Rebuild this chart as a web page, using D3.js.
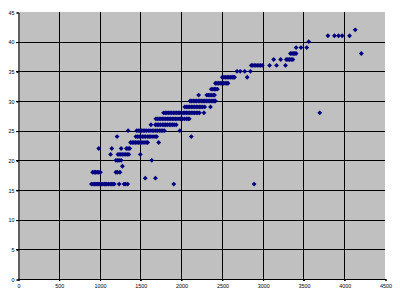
<!DOCTYPE html>
<html>
<head>
<meta charset="utf-8">
<script src="https://cdn.jsdelivr.net/npm/d3@7"></script>
<style>
  body { margin: 0; background: #fff; }
  svg { display: block; }
</style>
</head>
<body>
<svg id="chart" width="400" height="300"></svg>
<script>
const plotLeft = 18, plotRight = 385, plotTop = 12, plotBottom = 279;

const xTicks = [0, 500, 1000, 1500, 2000, 2500, 3000, 3500, 4000, 4500];
const yTicks = [0, 5, 10, 15, 20, 25, 30, 35, 40, 45];

// y level of each row of points
const yRows = [16, 17, 18, 19, 20, 21, 22, 23, 24, 25, 26, 27, 28, 29,
  30, 31, 32, 33, 34, 35, 36, 37, 38, 39, 40, 41, 42];

// x values of the points on each row (same order as yRows)
const xRows = [
  [900, 920, 940, 955, 970, 990, 1005, 1020, 1040, 1060, 1075, 1090, 1110, 1130, 1150, 1165, 1180, 1240, 1300, 1320, 1345, 1910, 2895],
  [1560, 1685],
  [915, 935, 950, 970, 990, 1010, 1200, 1220, 1250],
  [1280],
  [1200, 1220, 1240, 1265, 1640],
  [1135, 1225, 1240, 1260, 1280, 1300, 1320, 1340, 1360, 1500],
  [990, 1150, 1265, 1330, 1350, 1370],
  [1380, 1400, 1420, 1440, 1460, 1480, 1500, 1520, 1545, 1570, 1590, 1725],
  [1215, 1445, 1465, 1485, 1505, 1525, 1545, 1565, 1590, 1610, 1630, 1655, 1680, 1700, 2125],
  [1350, 1455, 1475, 1495, 1515, 1535, 1555, 1575, 1600, 1620, 1645, 1665, 1690, 1710, 1735, 1755, 1775, 1795, 1985],
  [1630, 1685, 1705, 1725, 1745, 1770, 1790, 1810, 1830, 1855, 1875, 1895, 1915, 1940],
  [1690, 1710, 1730, 1750, 1770, 1790, 1810, 1830, 1850, 1870, 1890, 1910, 1930, 1950, 1975, 1995, 2015, 2040, 2065, 2085, 2100],
  [1785, 1805, 1825, 1845, 1865, 1885, 1905, 1925, 1945, 1965, 1985, 2005, 2025, 2045, 2065, 2085, 2105, 2125, 2145, 2165, 2185, 2205, 2225, 2280, 3700],
  [2045, 2065, 2085, 2105, 2125, 2145, 2165, 2185, 2205, 2225, 2245, 2265, 2290, 2360],
  [2110, 2130, 2150, 2170, 2190, 2210, 2230, 2250, 2270, 2290, 2310, 2330, 2350, 2370, 2390, 2405, 2420],
  [2215, 2315, 2335, 2355, 2375, 2395, 2410],
  [2370, 2390, 2410, 2425, 2445],
  [2420, 2440, 2460, 2480, 2500, 2520, 2540, 2560, 2575],
  [2505, 2525, 2545, 2565, 2585, 2605, 2625, 2640, 2655, 2810],
  [2685, 2725, 2780, 2850],
  [2860, 2875, 2895, 2915, 2935, 2955, 2975, 2995, 3085, 3170, 3280],
  [3135, 3220, 3290, 3310, 3330, 3350, 3370],
  [3340, 3360, 3380, 3395, 3410, 4210],
  [3410, 3470, 3540],
  [3565],
  [3800, 3880, 3930, 3975, 4065],
  [4135]
];

function createScatter(targetSVG) {
  const svg = d3.select(targetSVG)
    .style("font", "5.4px 'Liberation Sans', Arial, sans-serif");

  const x = d3.scaleLinear().domain([0, 4500]).range([plotLeft, plotRight]);
  const y = d3.scaleLinear().domain([0, 45]).range([plotBottom, plotTop]);
  const crisp = v => Math.round(v) + 0.5;

  // plot area
  svg.append("rect")
    .attr("x", plotLeft)
    .attr("y", plotTop)
    .attr("width", plotRight - plotLeft)
    .attr("height", plotBottom - plotTop)
    .attr("fill", "#c0c0c0");

  // grid lines
  const grid = svg.append("g")
    .attr("stroke", "#000")
    .attr("stroke-width", 1);

  grid.selectAll(".hgrid").data(yTicks.filter(d => d > 0 && d < 45)).enter()
    .append("line")
    .attr("class", "hgrid")
    .attr("x1", plotLeft - 2)
    .attr("x2", plotRight)
    .attr("y1", d => crisp(y(d)))
    .attr("y2", d => crisp(y(d)));

  grid.selectAll(".vgrid").data(xTicks.filter(d => d > 0 && d < 4500)).enter()
    .append("line")
    .attr("class", "vgrid")
    .attr("x1", d => crisp(x(d)))
    .attr("x2", d => crisp(x(d)))
    .attr("y1", plotTop)
    .attr("y2", plotBottom + 2);

  // axes (outside tick marks, labels)
  const xAxis = d3.axisBottom(x).tickValues(xTicks).tickFormat(d3.format("d"))
    .tickSize(2).tickPadding(3);
  const yAxis = d3.axisLeft(y).tickValues(yTicks).tickFormat(d3.format("d"))
    .tickSize(2).tickPadding(2);

  svg.append("g")
    .attr("transform", `translate(0.5,${crisp(plotBottom) - 0.5})`)
    .call(xAxis)
    .call(g => g.select(".domain").attr("stroke", "#000"))
    .call(g => g.selectAll("text").attr("fill", "#000").style("font-size", "5.4px").attr("font-family", null));

  svg.append("g")
    .attr("transform", `translate(${crisp(plotLeft)},0.5)`)
    .call(yAxis)
    .call(g => g.select(".domain").attr("stroke", "#000"))
    .call(g => g.selectAll("text").attr("fill", "#000").style("font-size", "5.4px").attr("font-family", null));

  svg.selectAll(".domain").attr("stroke-width", 1);

  // points
  const points = [];
  yRows.forEach(function(level, i) {
    xRows[i].forEach(function(v) {
      points.push({ x: v, y: level });
    });
  });

  const marker = d3.symbol().type(d3.symbolDiamond2).size(15);

  svg.append("g")
    .selectAll("path")
    .data(points)
    .enter()
    .append("path")
    .attr("d", marker)
    .attr("transform", d => `translate(${x(d.x)},${y(d.y)})`)
    .attr("fill", "#000080");
}

createScatter("#chart");
</script>
</body>
</html>
